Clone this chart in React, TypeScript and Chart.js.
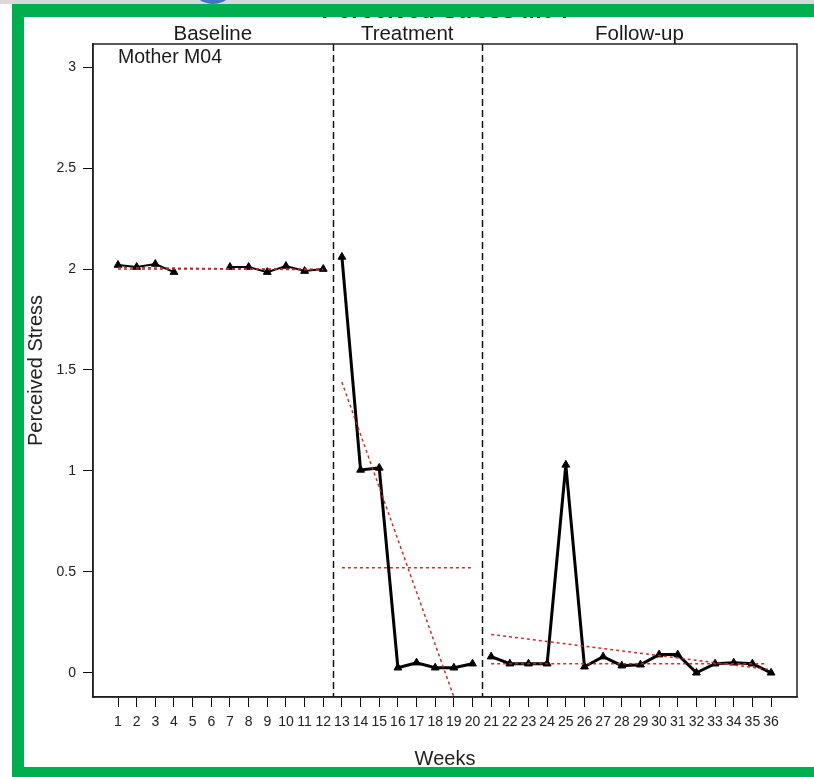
import React, { useEffect, useRef } from "react";
import { Chart, registerables } from "chart.js";

Chart.register(...registerables);

// ---- data ----
const weekTicks = [1, 2, 3, 4, 5, 6, 7, 8, 9, 10, 11, 12, 13, 14, 15, 16, 17, 18, 19, 20, 21, 22, 23, 24, 25, 26, 27, 28, 29, 30, 31, 32, 33, 34, 35, 36];
const yTicks = [0, 0.5, 1, 1.5, 2, 2.5, 3];
const yTickLabels = ["0", "0.5", "1", "1.5", "2", "2.5", "3"];

const baselineWeeks = [1, 2, 3, 4, 5, 6, 7, 8, 9, 10, 11, 12];
const baselineStress = [2.02, 2.01, 2.025, 1.985, null, null, 2.01, 2.01, 1.985, 2.015, 1.99, 2.0];

const treatmentWeeks = [13, 14, 15, 16, 17, 18, 19, 20];
const treatmentStress = [2.06, 1.005, 1.015, 0.025, 0.05, 0.025, 0.025, 0.045];

const followWeeks = [21, 22, 23, 24, 25, 26, 27, 28, 29, 30, 31, 32, 33, 34, 35, 36];
const followStress = [0.08, 0.045, 0.045, 0.045, 1.03, 0.03, 0.08, 0.035, 0.04, 0.09, 0.09, 0.0, 0.045, 0.05, 0.045, 0.0];

// phase mean / trend lines (end points)
const baselineFitWeeks = [1, 12];
const baselineMean = [2.0, 2.0];
const baselineTrend = [2.008, 1.996];
const treatmentFitWeeks = [13, 20];
const treatmentMean = [0.52, 0.52];
const treatmentTrend = [1.44, -0.38];
const followFitWeeks = [21, 35.8];
const followMean = [0.045, 0.045];
const followTrendWeeks = [21, 36];
const followTrend = [0.19, 0.015];

const phaseNames = ["Baseline", "Treatment", "Follow-up"];
const phaseBoundaries = [12.5, 20.5];
const chartTitle = "Perceived Stress M04";
const subjectLabel = "Mother M04";
const xAxisTitle = "Weeks";
const yAxisTitle = "Perceived Stress";

const X_MIN = -0.34;
const X_MAX = 37.39;
const Y_MIN = -0.12;
const Y_MAX = 3.115;

const FONT = "'Liberation Sans', Arial, Helvetica, sans-serif";
const RED = "rgba(200, 35, 35, 0.95)";

const pts = (xs: number[], ys: (number | null)[]) => xs.map((x, i) => ({ x, y: ys[i] }));

const overlayPlugin = {
  id: "overlayPlugin",
  beforeDatasetsDraw(chart: any) {
    const { ctx, chartArea, scales } = chart;
    ctx.save();
    ctx.strokeStyle = "#111";
    ctx.lineWidth = 1.5;
    ctx.setLineDash([7, 4]);
    phaseBoundaries.forEach((b) => {
      const x = Math.round(scales.x.getPixelForValue(b)) + 0.5;
      ctx.beginPath();
      ctx.moveTo(x, chartArea.top);
      ctx.lineTo(x, chartArea.bottom);
      ctx.stroke();
    });
    ctx.restore();
  },
  afterDraw(chart: any) {
    const { ctx, chartArea, scales } = chart;
    ctx.save();
    // box
    ctx.strokeStyle = "#222";
    ctx.lineWidth = 1.5;
    ctx.setLineDash([]);
    ctx.strokeRect(chartArea.left, chartArea.top, chartArea.right - chartArea.left, chartArea.bottom - chartArea.top);

    // phase labels
    const edges = [X_MIN, ...phaseBoundaries, X_MAX];
    ctx.fillStyle = "#1a1a1a";
    ctx.font = `20.5px ${FONT}`;
    ctx.textAlign = "center";
    ctx.textBaseline = "alphabetic";
    phaseNames.forEach((name, i) => {
      const cx = (scales.x.getPixelForValue(edges[i]) + scales.x.getPixelForValue(edges[i + 1])) / 2;
      ctx.fillText(name, cx, 40);
    });

    // subject label
    ctx.textAlign = "left";
    ctx.font = `19.5px ${FONT}`;
    ctx.fillText(subjectLabel, scales.x.getPixelForValue(1), 63);

    // chart title (mostly hidden under the frame)
    ctx.textAlign = "center";
    ctx.font = `bold 24px ${FONT}`;
    ctx.fillText(chartTitle, (chartArea.left + chartArea.right) / 2, 18);
    ctx.restore();
  },
};

export default function App() {
  const canvasRef = useRef<HTMLCanvasElement | null>(null);

  useEffect(() => {
    if (!canvasRef.current) return;
    const fitStyle = (data: any[]) => ({
      data,
      borderColor: RED,
      borderWidth: 1.5,
      borderDash: [3, 3],
      pointRadius: 0,
      fill: false,
      tension: 0,
    });
    const mainStyle = (data: any[], width: number) => ({
      data,
      borderColor: "#000",
      backgroundColor: "#000",
      borderWidth: width,
      pointStyle: "triangle",
      pointRadius: 4.5,
      pointBorderWidth: 1,
      pointBackgroundColor: "#000",
      pointBorderColor: "#000",
      spanGaps: false,
      fill: false,
      tension: 0,
    });

    const chart = new Chart(canvasRef.current, {
      type: "line",
      data: {
        datasets: [
          fitStyle(pts(baselineFitWeeks, baselineMean)),
          fitStyle(pts(baselineFitWeeks, baselineTrend)),
          fitStyle(pts(treatmentFitWeeks, treatmentMean)),
          fitStyle(pts(treatmentFitWeeks, treatmentTrend)),
          fitStyle(pts(followFitWeeks, followMean)),
          fitStyle(pts(followTrendWeeks, followTrend)),
          mainStyle(pts(baselineWeeks, baselineStress), 2),
          mainStyle(pts(treatmentWeeks, treatmentStress), 3),
          mainStyle(pts(followWeeks, followStress), 3),
        ] as any,
      },
      options: {
        responsive: false,
        animation: false,
        devicePixelRatio: 1,
        layout: { padding: { left: 0, right: 17, top: 44, bottom: 0 } },
        plugins: {
          legend: { display: false },
          tooltip: { enabled: false },
          title: { display: false },
        },
        scales: {
          x: {
            type: "linear",
            min: X_MIN,
            max: X_MAX,
            afterBuildTicks: (axis: any) => {
              axis.ticks = weekTicks.map((v) => ({ value: v }));
            },
            afterFit: (axis: any) => {
              axis.height = 80;
            },
            grid: {
              display: true,
              drawOnChartArea: false,
              drawTicks: true,
              tickLength: 10,
              color: "#111",
              lineWidth: 1,
            },
            border: { display: true, color: "#222", width: 1.5 },
            ticks: {
              autoSkip: false,
              maxRotation: 0,
              minRotation: 0,
              padding: 7,
              color: "#222",
              font: { family: FONT, size: 14 },
              callback: (v: any) => String(v),
            },
            title: {
              display: true,
              text: xAxisTitle,
              color: "#222",
              font: { family: FONT, size: 20 },
              padding: { top: 0, bottom: 6 },
            },
          },
          y: {
            type: "linear",
            min: Y_MIN,
            max: Y_MAX,
            afterBuildTicks: (axis: any) => {
              axis.ticks = yTicks.map((v) => ({ value: v }));
            },
            afterFit: (axis: any) => {
              axis.width = 93;
            },
            grid: {
              display: true,
              drawOnChartArea: false,
              drawTicks: true,
              tickLength: 10,
              color: "#111",
              lineWidth: 1,
            },
            border: { display: true, color: "#222", width: 1.5 },
            ticks: {
              padding: 7,
              color: "#222",
              font: { family: FONT, size: 14 },
              callback: (_v: any, i: number) => yTickLabels[i],
            },
            title: {
              display: true,
              text: yAxisTitle,
              color: "#222",
              font: { family: FONT, size: 20 },
              padding: { top: 24, bottom: 0 },
            },
          },
        },
      } as any,
      plugins: [overlayPlugin],
    });
    return () => chart.destroy();
  }, []);

  return (
    <div
      style={{
        position: "absolute",
        left: 0,
        top: 0,
        width: 814,
        height: 777,
        background: "#fff",
        overflow: "hidden",
      }}
    >
      <canvas ref={canvasRef} width={814} height={777} style={{ position: "absolute", left: 0, top: 0 }} />
      <div style={{ position: "absolute", left: 0, top: 0, width: 814, height: 4, background: "#d9d9d9" }} />
      <div
        style={{
          position: "absolute",
          left: 190,
          top: -40,
          width: 46,
          height: 44,
          borderRadius: "50%",
          background: "#4472c4",
        }}
      />
      <div style={{ position: "absolute", left: 12, top: 4, width: 802, height: 13, background: "#00b050" }} />
      <div style={{ position: "absolute", left: 12, top: 4, width: 12, height: 773, background: "#00b050" }} />
      <div style={{ position: "absolute", left: 12, top: 767, width: 802, height: 10, background: "#00b050" }} />
    </div>
  );
}
